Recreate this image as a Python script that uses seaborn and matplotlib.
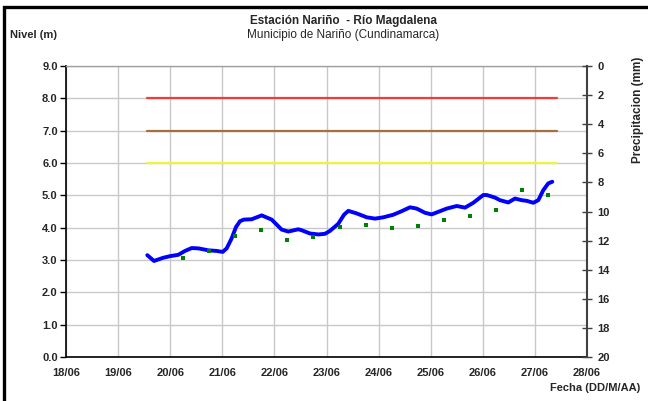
import matplotlib
matplotlib.use("Agg")
import matplotlib.pyplot as plt
import matplotlib.dates as mdates
from matplotlib.patches import Rectangle
import seaborn as sns
import pandas as pd

# ---- data ----
level_times = ["06-19 13:27", "06-19 16:32", "06-19 20:50", "06-20 00:00", "06-20 03:43",
               "06-20 06:49", "06-20 09:55", "06-20 12:56", "06-20 17:33", "06-20 21:26",
               "06-21 00:11", "06-21 02:01", "06-21 04:19", "06-21 06:19", "06-21 08:09",
               "06-21 10:00", "06-21 13:32", "06-21 18:08", "06-21 22:45", "06-22 03:21",
               "06-22 06:24", "06-22 11:01", "06-22 12:34", "06-22 16:24", "06-22 20:14",
               "06-22 23:18", "06-23 01:36", "06-23 05:25", "06-23 08:04", "06-23 10:02",
               "06-23 13:55", "06-23 18:32", "06-23 22:21", "06-24 02:10", "06-24 06:46",
               "06-24 10:38", "06-24 14:28", "06-24 17:33", "06-24 21:23", "06-25 00:27",
               "06-25 04:17", "06-25 07:22", "06-25 11:59", "06-25 15:48", "06-25 19:38",
               "06-26 00:14", "06-26 01:48", "06-26 05:37", "06-26 07:55", "06-26 11:44",
               "06-26 14:50", "06-26 17:55", "06-26 20:14", "06-26 23:15", "06-27 01:34",
               "06-27 03:52", "06-27 06:10", "06-27 08:01"]
level_values = [3.15, 2.97, 3.07, 3.12, 3.16, 3.28, 3.37, 3.36, 3.30, 3.28,
                3.25, 3.36, 3.67, 4.02, 4.20, 4.25, 4.26, 4.38, 4.25, 3.94,
                3.88, 3.95, 3.92, 3.82, 3.79, 3.81, 3.90, 4.12, 4.40, 4.52,
                4.44, 4.32, 4.28, 4.32, 4.40, 4.51, 4.63, 4.59, 4.46, 4.41,
                4.51, 4.59, 4.67, 4.62, 4.77, 5.01, 5.01, 4.93, 4.85, 4.78,
                4.90, 4.85, 4.83, 4.77, 4.85, 5.16, 5.37, 5.42]

obs_times = ["06-20 06:00", "06-20 18:00", "06-21 06:00", "06-21 18:00", "06-22 06:00",
             "06-22 18:00", "06-23 06:00", "06-23 18:00", "06-24 06:00", "06-24 18:00",
             "06-25 06:00", "06-25 18:00", "06-26 06:00", "06-26 18:00", "06-27 06:00"]
obs_values = [3.05, 3.28, 3.74, 3.93, 3.63, 3.72, 4.01, 4.09, 3.99, 4.05,
              4.25, 4.35, 4.55, 5.15, 5.00]

threshold_levels = [8.0, 7.0, 6.0]
threshold_colors = ["#F03C3C", "#A5703F", "#F2F23C"]
threshold_span = ["06-19 13:27", "06-27 10:00"]

x_range = ["06-18 00:00", "06-28 00:00"]
title = "Estación Nariño  - Río Magdalena"
subtitle = "Municipio de Nariño (Cundinamarca)"

def to_dt(lst):
    return pd.to_datetime(["2013-" + s for s in lst])

df_level = pd.DataFrame({"t": to_dt(level_times), "nivel": level_values})
df_obs = pd.DataFrame({"t": to_dt(obs_times), "nivel": obs_values})

# ---- figure ----
sns.set_style("white")
plt.rcParams["font.family"] = ["Liberation Sans", "DejaVu Sans"]

fig = plt.figure(figsize=(6.48, 4.01), dpi=100)
ax = fig.add_axes([66/648, 1-357/401, (587-66)/648, (357-66)/401])

grid_c = "#C8C8C8"
span_t = to_dt(threshold_span)
for lev, col in zip(threshold_levels, threshold_colors):
    dft = pd.DataFrame({"t": span_t, "nivel": [lev, lev]})
    sns.lineplot(data=dft, x="t", y="nivel", ax=ax, color=col, linewidth=1.6, zorder=3)

sns.lineplot(data=df_level, x="t", y="nivel", ax=ax, color="#0000FF", linewidth=2.8,
             zorder=4, sort=False)
sns.scatterplot(data=df_obs, x="t", y="nivel", ax=ax, color="#008000", marker="s",
                s=6, linewidth=0, zorder=5)

xr = to_dt(x_range)
ax.set_xlim(xr[0], xr[1])
ax.set_ylim(0, 9)
ax.set_yticks([i * 1.0 for i in range(10)])
ax.yaxis.set_major_formatter(matplotlib.ticker.FormatStrFormatter("%.1f"))
ax.xaxis.set_major_locator(mdates.DayLocator())
ax.xaxis.set_major_formatter(mdates.DateFormatter("%d/%m"))
ax.set_xlabel("")
ax.set_ylabel("")
ax.grid(True, color=grid_c, linewidth=1.0, zorder=0)
ax.set_axisbelow(True)
for lab in ax.get_xticklabels() + ax.get_yticklabels():
    lab.set_fontweight("bold")
    lab.set_fontsize(8)
ax.tick_params(axis="y", direction="out", length=4, width=1, color="black", pad=2)
ax.tick_params(axis="x", direction="out", length=3, width=1, color="black", pad=5)
ax.spines["left"].set_color("black")
ax.spines["left"].set_linewidth(1.2)
ax.spines["bottom"].set_color("black")
ax.spines["bottom"].set_linewidth(1.2)
ax.spines["top"].set_color("#A0A0A0")
ax.spines["top"].set_linewidth(1.0)
ax.spines["right"].set_visible(False)

ax2 = ax.twinx()
ax2.set_ylim(20, 0)
ax2.set_yticks(list(range(0, 21, 2)))
ax2.spines["right"].set_color("#404040")
ax2.spines["right"].set_linewidth(1.5)
for s in ["left", "top", "bottom"]:
    ax2.spines[s].set_visible(False)
ax2.tick_params(axis="y", direction="inout", length=7, width=1, color="#404040", pad=4)
for lab in ax2.get_yticklabels():
    lab.set_fontweight("bold")
    lab.set_fontsize(8)
ax2.set_ylabel("Precipitacion (mm)", fontsize=8.5, fontweight="bold")
ax2.yaxis.set_label_coords(1.086, 0.85)

fig.text(343/648, 1-21/401, title, ha="center", va="center", fontsize=8.5, fontweight="bold")
fig.text(343/648, 1-35/401, subtitle, ha="center", va="center", fontsize=8.5)
fig.text(10/648, 1-35/401, "Nivel (m)", ha="left", va="center", fontsize=8, fontweight="bold")
fig.text(640/648, 1-388/401, "Fecha (DD/M/AA)", ha="right", va="center", fontsize=8,
         fontweight="bold")

fig.patches.append(Rectangle((4/648, -0.05), 1.1, 1-7/401 + 0.05, transform=fig.transFigure,
                             fill=False, edgecolor="black", linewidth=2.4, zorder=10))

fig.savefig("out.png", dpi=100)
